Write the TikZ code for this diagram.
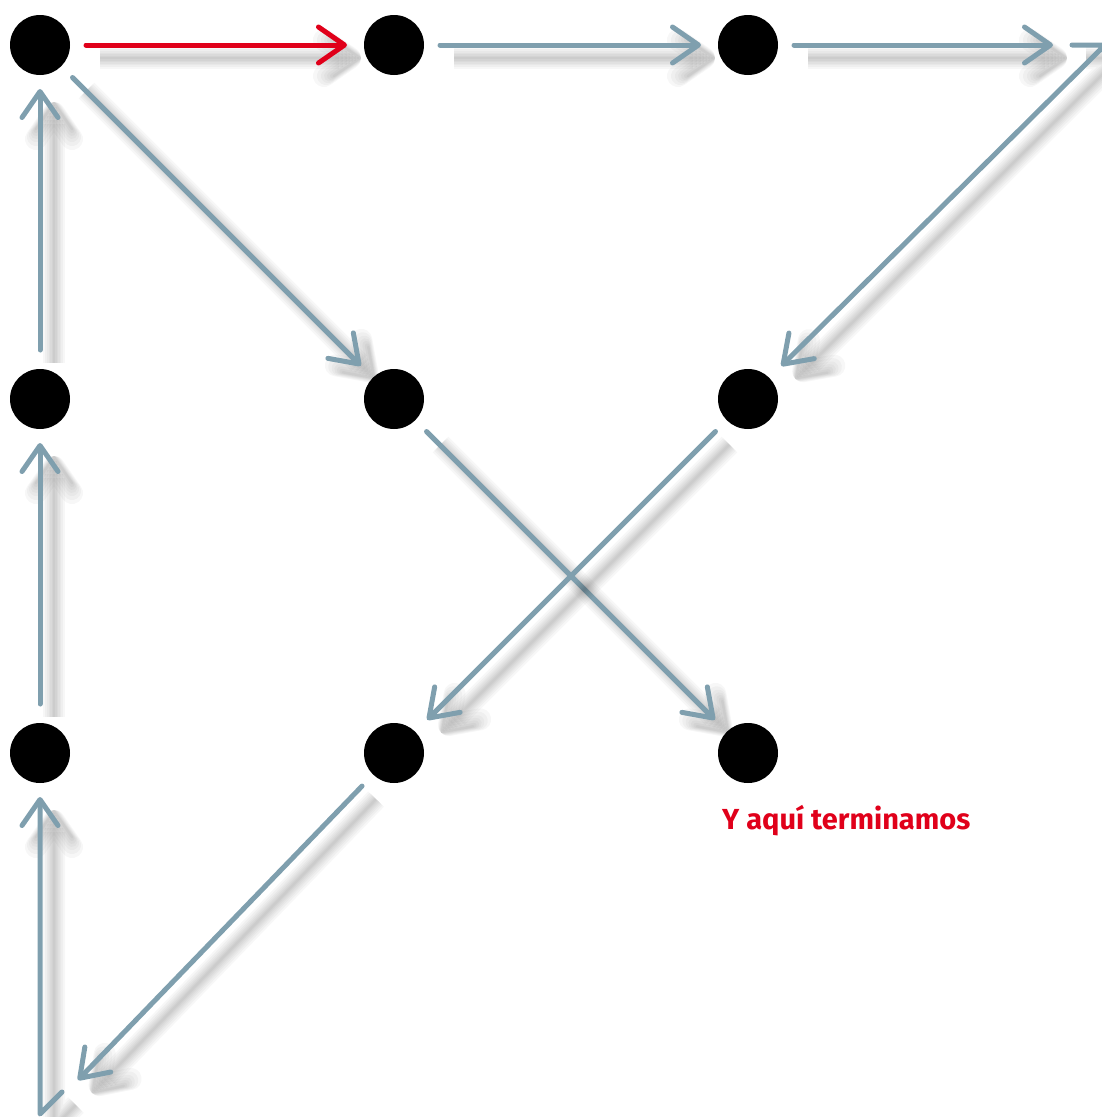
\documentclass[tikz,border=0pt]{standalone}
\usepackage{fontspec}
\newfontfamily\notefont{Fira Sans}
\usetikzlibrary{arrows.meta}
\definecolor{linkgray}{HTML}{7F9FAE}
\definecolor{pathred}{HTML}{E0001A}
\begin{document}
\begin{tikzpicture}[x=1pt,y=-1pt,
  dot/.style={circle,fill=black,inner sep=0pt,minimum size=60pt,outer sep=0pt},
  barb/.style={-{Straight Barb[length=26pt 0 0,width=36pt 0 0,round]}},
  haze/.style={preaction={draw=black,draw opacity=0.03,line width=#1,transform canvas={shift={(14,13)}}}},
  softshadow/.style={haze=22pt,haze=18pt,haze=14pt,haze=11pt,haze=8pt,haze=5pt,haze=2.5pt},
  conn/.style={draw=linkgray,line width=5pt,line cap=round,line join=round,barb,softshadow},
  gaps/.style={shorten <=16pt,shorten >=17pt},
  note/.style={text=pathred,font=\notefont\bfseries\fontsize{29}{29}\selectfont,inner sep=0pt}]
\useasboundingbox (0,0) rectangle (1102,1117);

% grid of dots
\node[dot] (n11) at (40,45) {};
\node[dot] (n12) at (394,45) {};
\node[dot] (n13) at (748,45) {};
\node[dot] (n21) at (40,399) {};
\node[dot] (n22) at (394,399) {};
\node[dot] (n23) at (748,399) {};
\node[dot] (n31) at (40,753) {};
\node[dot] (n32) at (394,753) {};
\node[dot] (n33) at (748,753) {};

% turning points outside the grid
\coordinate (c5) at (1072,45);
\coordinate (c1) at (1105,45);
\coordinate (c4) at (78,1080);
\coordinate (c2) at (40,1114);
\coordinate (c3) at (62,1092);

% connectors
\draw[conn,draw=pathred,gaps] (n11) -- (n12);
\draw[conn,gaps] (n12) -- (n13);
\draw[conn,shorten <=16pt,shorten >=19pt] (n13) -- (c5);
\draw[conn,shorten >=17pt] (c5) -- (c1) -- (n23);
\draw[conn,gaps] (n11) -- (n22);
\draw[conn,gaps] (n22) -- (n33);
\draw[conn,gaps] (n23) -- (n32);
\draw[conn,shorten <=16pt] (n32) -- (c4);
\draw[conn,shorten >=14pt] (c3) -- (c2) -- (n31);
\draw[conn,shorten <=19pt,shorten >=14pt] (n31) -- (n21);
\draw[conn,shorten <=19pt,shorten >=14pt] (n21) -- (n11);

% closing note
\node[note,anchor=base west] (end) at (722,829) {Y aquí terminamos};
\end{tikzpicture}
\end{document}
